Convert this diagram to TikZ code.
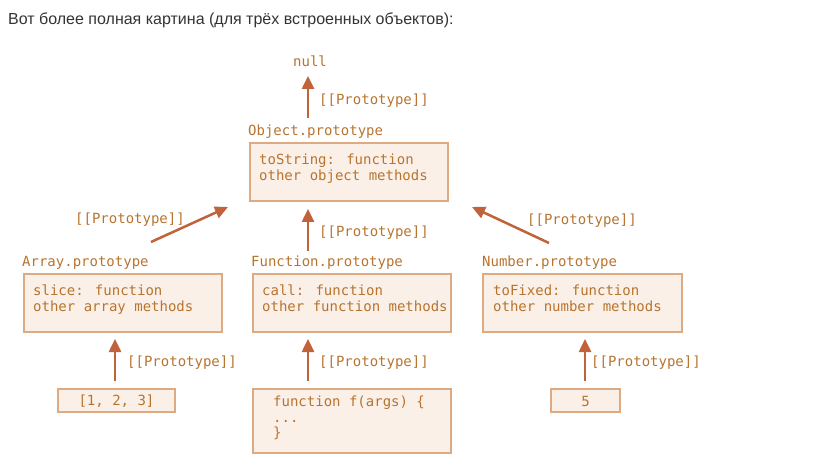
\documentclass[tikz,border=0pt]{standalone}
\usepackage{fontspec}
\setmainfont{Liberation Sans}
\newfontfamily\codefont{DejaVu Sans Mono}
\usetikzlibrary{arrows.meta}
\definecolor{txtc}{HTML}{B8742E}
\definecolor{arrc}{HTML}{C0623A}
\definecolor{boxd}{HTML}{DEAA82}
\definecolor{boxf}{HTML}{FBF0E8}
\definecolor{titc}{HTML}{333333}
\tikzset{
  code/.style={font=\codefont\fontsize{14pt}{15.5pt}\selectfont, text=txtc, inner sep=0pt, align=left},
  box/.style={draw=boxd, fill=boxf, line width=2pt, inner sep=0pt},
  proto/.style={arrc, line width=2.5pt, -{Triangle[width=12pt,length=13pt]}, shorten >=0pt},
}
\begin{document}
\begin{tikzpicture}[x=1pt,y=-1pt]
\useasboundingbox (0,0) rectangle (822,473);
\node[anchor=west, inner sep=0pt, text=titc, font=\fontsize{16pt}{18pt}\selectfont] (title) at (8,20) {Вот более полная картина (для трёх встроенных объектов):};

% null and Object.prototype
\node[code, anchor=west] (null) at (293,61.5) {null};
\node[code, anchor=west] (objlbl) at (248,131.5) {Object.prototype};
\node[box, minimum width=198pt, minimum height=58pt, anchor=north west] (objbox) at (249,142) {};
\node[code, anchor=north west] (objtxt) at (259,154) {toString: function\\other object methods};
\coordinate (nullfrom) at (308,118);
\coordinate (nullto) at (308,76);
\draw[proto] (nullfrom) -- (nullto);
\node[code, anchor=west] (l0) at (319,100.5) {[[Prototype]]};

% second level
\node[code, anchor=west] (arrlbl) at (22,262.5) {Array.prototype};
\node[box, minimum width=198pt, minimum height=58pt, anchor=north west] (arrbox) at (23,273) {};
\node[code, anchor=north west] (arrtxt) at (33,285) {slice: function\\other array methods};

\node[code, anchor=west] (funlbl) at (251,262.5) {Function.prototype};
\node[box, minimum width=198pt, minimum height=58pt, anchor=north west] (funbox) at (252,273) {};
\node[code, anchor=north west] (funtxt) at (262,285) {call: function\\other function methods};

\node[code, anchor=west] (numlbl) at (482,262.5) {Number.prototype};
\node[box, minimum width=199pt, minimum height=58pt, anchor=north west] (numbox) at (482,273) {};
\node[code, anchor=north west] (numtxt) at (493,285) {toFixed: function\\other number methods};

\coordinate (af) at (151,242); \coordinate (at) at (228,207);
\coordinate (ff) at (308,251); \coordinate (ft) at (308,209);
\coordinate (nf) at (549,243); \coordinate (nt) at (472,207);
\draw[proto] (af) -- (at);
\draw[proto] (ff) -- (ft);
\draw[proto] (nf) -- (nt);
\node[code, anchor=west] (l1) at (75,219.5) {[[Prototype]]};
\node[code, anchor=west] (l2) at (319,232.5) {[[Prototype]]};
\node[code, anchor=west] (l3) at (527,220.5) {[[Prototype]]};

% bottom
\node[box, minimum width=117pt, minimum height=23pt, anchor=north west] (arrobj) at (57,388) {};
\node[code] (arrobjtxt) at ([yshift=-1pt]arrobj.center) {[1, 2, 3]};
\node[box, minimum width=198pt, minimum height=64pt, anchor=north west] (funobj) at (252,388) {};
\node[code, anchor=north west] (funobjtxt) at (273,396) {function f(args) \{\\...\\\}};
\node[box, minimum width=69pt, minimum height=23pt, anchor=north west] (numobj) at (550,388) {};
\node[code] (numobjtxt) at ([yshift=-1pt]numobj.center) {5};

\coordinate (b1f) at (115,381); \coordinate (b1t) at (115,339);
\coordinate (b2f) at (308,381); \coordinate (b2t) at (308,339);
\coordinate (b3f) at (585,381); \coordinate (b3t) at (585,339);
\draw[proto] (b1f) -- (b1t);
\draw[proto] (b2f) -- (b2t);
\draw[proto] (b3f) -- (b3t);
\node[code, anchor=west] (l4) at (127,362.5) {[[Prototype]]};
\node[code, anchor=west] (l5) at (319,362.5) {[[Prototype]]};
\node[code, anchor=west] (l6) at (591,362.5) {[[Prototype]]};
\end{tikzpicture}
\end{document}
